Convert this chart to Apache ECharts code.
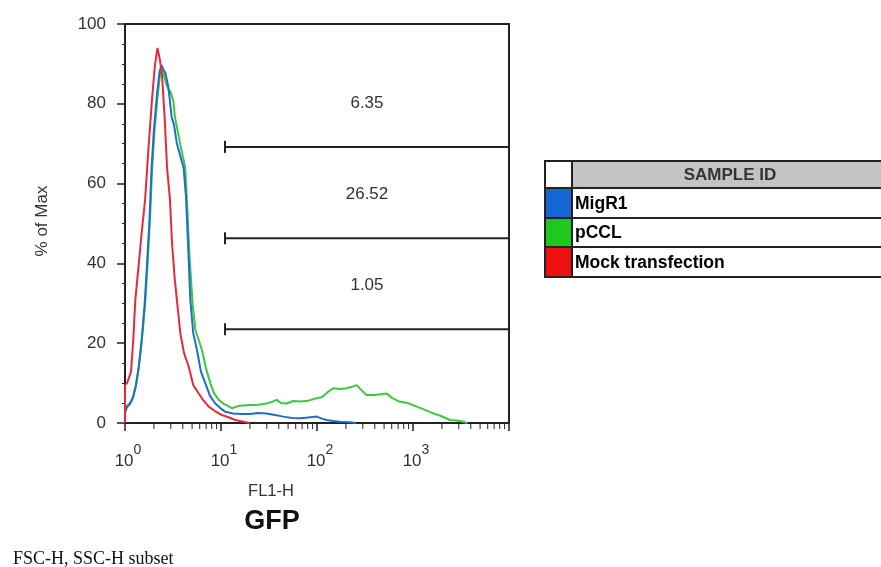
<!DOCTYPE html>
<html>
<head>
<meta charset="utf-8">
<script src="https://cdn.jsdelivr.net/npm/echarts@6/dist/echarts.min.js"></script>
<style>
  html, body { margin: 0; padding: 0; background: #fff; }
  #chart { width: 881px; height: 567px; }
</style>
</head>
<body>
<div id="chart"></div>
<script>
// FL1-H (GFP) histograms, % of max, one pair of arrays per sample
const migr1FL1 = [1, 1, 1.05, 1.13, 1.21, 1.30, 1.39, 1.49, 1.60, 1.69, 1.80, 1.89, 2.00, 2.15, 2.29, 2.40, 2.52, 2.64, 2.84, 3.06, 3.24, 3.46, 3.74, 4.08, 4.31, 4.59, 4.79, 5.14, 5.62, 6.19, 6.86, 7.68, 8.72, 9.77, 11.1, 13.3, 16.6, 20, 24.3, 29.9, 36.5, 44.6, 55, 66.5, 80.9, 99, 113, 126, 146, 174, 220, 254];
const migr1Pct = [0, 2.5, 4.0, 4.8, 6.3, 9.5, 14.1, 20.8, 29.6, 39, 50.9, 63.9, 73.4, 82.2, 88, 89.7, 88.5, 87.7, 84, 76.7, 74.7, 70.2, 67.2, 63.9, 57, 42, 30.8, 22.5, 18.3, 12.8, 10, 6.8, 4.9, 3.8, 2.8, 2.4, 2.25, 2.25, 2.5, 2.4, 2.0, 1.6, 1.25, 1.2, 1.4, 1.6, 1.1, 0.75, 0.5, 0.3, 0.2, 0];

const pcclFL1 = [1, 1, 1.05, 1.13, 1.21, 1.30, 1.40, 1.50, 1.62, 1.71, 1.82, 1.92, 2.03, 2.18, 2.31, 2.40, 2.52, 2.67, 2.84, 2.98, 3.09, 3.20, 3.31, 3.57, 3.77, 4.02, 4.24, 4.47, 4.69, 5.07, 5.42, 6.33, 6.97, 7.74, 8.45, 9.48, 10.7, 11.8, 13.0, 15.3, 17.3, 20.0, 24.3, 29.9, 34.0, 38.0, 42.1, 48.3, 56.6, 66.5, 80.9, 99.3, 113, 130, 148, 174, 204, 227, 259, 288, 329, 400, 486, 532, 604, 732, 888, 1093, 1334, 1626, 1955, 2428, 2848, 3342, 3690];
const pcclPct = [0, 2.8, 4.3, 5.0, 6.5, 9.3, 14.3, 20.8, 29.6, 39, 50.9, 63.9, 73.4, 81.7, 87, 88.5, 87.5, 85.2, 83.5, 83, 82.6, 80.5, 76.7, 72.7, 69.7, 66.7, 63.9, 53.4, 42.1, 29.6, 23.3, 18.3, 13.8, 10, 7.5, 5.8, 4.8, 4.3, 3.7, 4.3, 4.4, 4.5, 4.6, 4.9, 5.3, 5.8, 5.0, 4.9, 5.5, 5.4, 5.6, 6.2, 6.5, 7.8, 8.7, 8.5, 8.7, 9.0, 9.5, 8.3, 7.0, 7.0, 7.3, 7.4, 6.3, 5.3, 5.0, 4.1, 3.3, 2.4, 1.75, 0.75, 0.6, 0.3, 0];

const mockFL1 = [1, 1, 1.05, 1.10, 1.155, 1.22, 1.28, 1.38, 1.49, 1.62, 1.75, 1.91, 2.05, 2.18, 2.31, 2.43, 2.59, 2.74, 2.94, 3.09, 3.30, 3.50, 3.77, 4.12, 4.61, 5.14, 5.86, 6.5, 7.45, 8.66, 10.2, 11.8, 14.1, 16.6, 20];
const mockPct = [0, 9.5, 10.0, 10.5, 12.8, 21, 30.8, 39, 47.6, 56, 68.4, 81, 89.7, 94, 91, 87.2, 76.4, 64, 56, 45, 36, 30, 22.5, 17.5, 14.1, 9.5, 7.4, 5.8, 4.1, 3.0, 2.0, 1.5, 0.75, 0.4, 0];

// Sample legend
const sampleNames = ['MigR1', 'pCCL', 'Mock transfection'];
const sampleColors = ['#1565d6', '#1ec81e', '#ee1111'];
const lineColors = ['#1f6fc6', '#3cc83c', '#e62a3c'];

// Range gates: start, end, level (% of Max) and gated percentage
const gateStart = [11, 11, 11];
const gateEnd = [10000, 10000, 10000];
const gateLevel = [69.2, 46.3, 23.5];
const gateValues = ['6.35', '26.52', '1.05'];

// Axis ticks
const xTickExponents = [0, 1, 2, 3];
const xMinorTicks = [2, 3, 4, 5, 6, 7, 8, 9, 20, 30, 40, 50, 60, 70, 80, 90, 200, 300, 400, 500, 600, 700, 800, 900, 2000, 3000, 4000, 5000, 6000, 7000, 8000, 9000];

const FONT = '"Liberation Sans", Arial, sans-serif';
const INK = '#222';

const pairs = (xs, ys) => xs.map((x, i) => [x, ys[i]]);

const chart = echarts.init(document.getElementById('chart'), null, { renderer: 'canvas' });

// Legend table (sample id column with colour swatches)
const tX = 545, tY = 161, tW = 350, colW = 27;
const rowH = [27, 30, 29, 30];
const tableEls = [];
tableEls.push({ type: 'rect', shape: { x: tX + colW, y: tY, width: tW, height: rowH[0] }, style: { fill: '#c3c3c3' } });
let yy = tY + rowH[0];
sampleNames.forEach((name, i) => {
  tableEls.push({ type: 'rect', shape: { x: tX, y: yy, width: colW, height: rowH[i + 1] }, style: { fill: sampleColors[i] } });
  tableEls.push({ type: 'text', x: tX + colW + 3, y: yy + rowH[i + 1] / 2 + 1,
    style: { text: name, font: 'bold 17.5px ' + FONT, fill: '#000', align: 'left', verticalAlign: 'middle' } });
  yy += rowH[i + 1];
});
const tH = yy - tY;
let ly = tY;
for (let i = 0; i < rowH.length - 1; i++) {
  ly += rowH[i];
  tableEls.push({ type: 'line', shape: { x1: tX, y1: ly, x2: tX + tW, y2: ly }, style: { stroke: INK, lineWidth: 2 } });
}
tableEls.push({ type: 'line', shape: { x1: tX + colW, y1: tY, x2: tX + colW, y2: tY + tH }, style: { stroke: INK, lineWidth: 2 } });
tableEls.push({ type: 'rect', shape: { x: tX, y: tY, width: tW, height: tH }, style: { fill: 'none', stroke: INK, lineWidth: 2 } });
tableEls.push({ type: 'text', x: 730, y: tY + rowH[0] / 2 + 1,
  style: { text: 'SAMPLE ID', font: 'bold 17px ' + FONT, fill: '#333', align: 'center', verticalAlign: 'middle' } });

const option = {
  backgroundColor: '#fff',
  animation: false,
  grid: {
    left: 125, top: 24, right: 372, bottom: 144,
    show: true, borderColor: INK, borderWidth: 2, backgroundColor: 'transparent'
  },
  xAxis: {
    type: 'log', logBase: 10, min: 1, max: 10000, splitNumber: 4,
    axisLine: { show: true, onZero: false, lineStyle: { color: INK, width: 2 } },
    axisTick: { show: true, length: 8, lineStyle: { color: INK, width: 1.5 } },
    splitLine: { show: false },
    axisLabel: {
      margin: 20, color: '#333',
      formatter: (v) => {
        const e = Math.round(Math.log10(v));
        return xTickExponents.includes(e) ? '{b|10}{s|' + e + '}' : '';
      },
      rich: {
        b: { fontSize: 17, fontFamily: FONT, color: '#333', verticalAlign: 'bottom', padding: [0, 0, 0, 6] },
        s: { fontSize: 14, fontFamily: FONT, color: '#333', padding: [0, 0, 13, 0] }
      }
    }
  },
  yAxis: {
    type: 'value', min: 0, max: 100, interval: 20,
    axisLine: { show: true, lineStyle: { color: INK, width: 2 } },
    axisTick: { show: true, length: 8, lineStyle: { color: INK, width: 1.5 } },
    minorTick: { show: true, splitNumber: 4, length: 3, lineStyle: { color: INK, width: 1 } },
    splitLine: { show: false },
    axisLabel: { margin: 19, fontSize: 17, fontFamily: FONT, color: '#333' }
  },
  graphic: [
    { type: 'text', x: 42, y: 221, rotation: Math.PI / 2,
      style: { text: '% of Max', font: '17px ' + FONT, fill: '#333', align: 'center', verticalAlign: 'middle' } },
    { type: 'text', x: 271, y: 491,
      style: { text: 'FL1-H', font: '16.5px ' + FONT, fill: '#333', align: 'center', verticalAlign: 'middle' } },
    { type: 'text', x: 272, y: 522,
      style: { text: 'GFP', font: 'bold 27px ' + FONT, fill: '#111', align: 'center', verticalAlign: 'middle' } },
    { type: 'text', x: 13, y: 559,
      style: { text: 'FSC-H, SSC-H subset', font: '18px "Liberation Serif", "Times New Roman", serif', fill: '#111', align: 'left', verticalAlign: 'middle' } },
    ...tableEls
  ],
  series: [
    {
      name: sampleNames[1], type: 'line', data: pairs(pcclFL1, pcclPct), showSymbol: false, z: 2,
      lineStyle: { color: lineColors[1], width: 2 }, itemStyle: { color: lineColors[1] }
    },
    {
      name: sampleNames[0], type: 'line', data: pairs(migr1FL1, migr1Pct), showSymbol: false, z: 3,
      lineStyle: { color: lineColors[0], width: 2 }, itemStyle: { color: lineColors[0] }
    },
    {
      name: sampleNames[2], type: 'line', data: pairs(mockFL1, mockPct), showSymbol: false, z: 4,
      lineStyle: { color: lineColors[2], width: 2 }, itemStyle: { color: lineColors[2] }
    },
    {
      // range gates with their percentages
      type: 'custom', clip: false, z: 5,
      data: gateStart.map((s, i) => [s, gateEnd[i], gateLevel[i]]),
      renderItem: (params, api) => {
        const a = api.coord([api.value(0), api.value(2)]);
        const b = api.coord([api.value(1), api.value(2)]);
        return {
          type: 'group', children: [
            { type: 'line', shape: { x1: a[0], y1: a[1], x2: b[0], y2: b[1] }, style: { stroke: INK, lineWidth: 2 } },
            { type: 'line', shape: { x1: a[0], y1: a[1] - 6, x2: a[0], y2: a[1] + 6 }, style: { stroke: INK, lineWidth: 2 } },
            { type: 'text', x: (a[0] + b[0]) / 2, y: a[1] - 44,
              style: { text: gateValues[params.dataIndex], font: '17px ' + FONT, fill: '#333', align: 'center', verticalAlign: 'middle' } }
          ]
        };
      }
    },
    {
      // log-scale minor ticks under the x axis
      type: 'custom', clip: false, z: 5, silent: true,
      data: xMinorTicks.map(v => [v, 0]),
      renderItem: (params, api) => {
        const p = api.coord([api.value(0), 0]);
        return { type: 'line', shape: { x1: p[0], y1: p[1] + 1, x2: p[0], y2: p[1] + 6 }, style: { stroke: INK, lineWidth: 1 } };
      }
    }
  ]
};

chart.setOption(option);
</script>
</body>
</html>
